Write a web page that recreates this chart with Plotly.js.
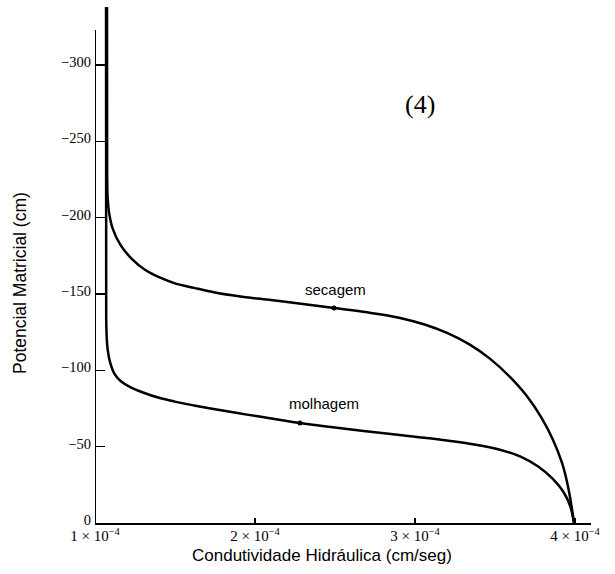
<!DOCTYPE html>
<html>
<head>
<meta charset="utf-8">
<script src="https://cdn.plot.ly/plotly-3.0.1.min.js"></script>
<style>html,body{margin:0;padding:0;background:#fff;}#chart{width:615px;height:574px;}</style>
</head>
<body>
<div id="chart"></div>
<script>
// x values in units of 1e-4 cm/seg, y in cm
const secagemX = [1.075, 1.076, 1.079, 1.087, 1.11, 1.16, 1.23, 1.31, 1.4, 1.5, 1.62, 1.75, 1.9, 2.1, 2.3, 2.494, 2.7, 2.9, 3.06, 3.2, 3.34, 3.47, 3.59, 3.7, 3.79, 3.86, 3.92, 3.96, 3.994];
const secagemY = [-340, -230, -213, -204, -193, -182, -173, -166, -161, -157, -154, -151, -148.5, -146, -143.5, -140.8, -138, -134.5, -130, -124.5, -117, -107.5, -96, -83, -69, -55, -39, -22, 0];
const molhagemX = [1.069, 1.07, 1.073, 1.08, 1.095, 1.12, 1.16, 1.22, 1.3, 1.4, 1.5, 1.62, 1.75, 1.95, 2.15, 2.281, 2.5, 2.75, 3.0, 3.2, 3.38, 3.53, 3.66, 3.77, 3.86, 3.93, 3.97, 3.994];
const molhagemY = [-340, -135, -122, -113, -105, -98, -93, -89, -85.5, -82, -79.5, -77, -74.5, -71, -67.7, -65.5, -62.5, -59.5, -56.5, -54, -51.3, -48, -43.5, -37, -29, -20, -11, 0];
const markX = [2.494, 2.281];
const markY = [-140.8, -65.5];
const xTickVals = [1, 2, 3, 4];
const xTickText = ['1 × 10<sup>−4</sup>', '2 × 10<sup>−4</sup>', '3 × 10<sup>−4</sup>', '4 × 10<sup>−4</sup>'];
const yTickVals = [0, -50, -100, -150, -200, -250, -300];
const yTickText = ['0', '−50', '−100', '−150', '−200', '−250', '−300'];
const labels = [
  {text: 'secagem', x: 2.5, y: -153},
  {text: 'molhagem', x: 2.43, y: -78}
];
const xTitle = 'Condutividade Hidráulica (cm/seg)';
const yTitle = 'Potencial Matricial (cm)';

const lineStyle = {color: '#000', width: 2.5, shape: 'spline', smoothing: 1};
const traces = [
  {x: secagemX, y: secagemY, mode: 'lines', line: lineStyle, name: 'secagem', hoverinfo: 'skip'},
  {x: molhagemX, y: molhagemY, mode: 'lines', line: lineStyle, name: 'molhagem', hoverinfo: 'skip'},
  {x: markX, y: markY, mode: 'markers', marker: {color: '#000', size: 5}, hoverinfo: 'skip'}
];

const serif = 'Liberation Serif, Times New Roman, serif';
const sans = 'Liberation Sans, Arial, sans-serif';

const layout = {
  width: 615, height: 574,
  margin: {l: 95, r: 24, t: 7, b: 51},
  paper_bgcolor: '#fff', plot_bgcolor: '#fff',
  showlegend: false,
  xaxis: {
    range: [1, 4.1], showgrid: false, zeroline: false,
    showline: true, linecolor: '#000', linewidth: 2,
    ticks: 'inside', ticklen: 5, tickwidth: 1.5, tickcolor: '#000',
    tickvals: xTickVals, ticktext: xTickText,
    tickfont: {family: serif, size: 15, color: '#000'},
    ticklabelstandoff: -2
  },
  yaxis: {
    range: [0, -338], showgrid: false, zeroline: false,
    showline: false,
    ticks: 'inside', ticklen: 10, tickwidth: 1.5, tickcolor: '#000',
    tickvals: yTickVals, ticktext: yTickText,
    tickfont: {family: serif, size: 14.5, color: '#000'},
    ticklabelshift: 3,
    ticklabelstandoff: 3
  },
  shapes: [
    {type: 'line', xref: 'x', yref: 'y', x0: 1, x1: 1, y0: 0, y1: -323, line: {color: '#000', width: 2}}
  ],
  annotations: [
    {text: xTitle, xref: 'paper', yref: 'paper', x: (322 - 95) / 496, y: -(555 - 523) / 516, xanchor: 'center', yanchor: 'middle', showarrow: false, font: {family: sans, size: 17, color: '#000'}},
    {text: yTitle, xref: 'paper', yref: 'paper', x: (20 - 95) / 496, y: (523 - 283) / 516, xanchor: 'center', yanchor: 'middle', textangle: -90, showarrow: false, font: {family: sans, size: 17.5, color: '#000'}},
    {text: '(4)', xref: 'x', yref: 'y', x: 3.03, y: -274, showarrow: false, font: {family: serif, size: 26, color: '#000'}},
    ...labels.map(l => ({text: l.text, xref: 'x', yref: 'y', x: l.x, y: l.y, showarrow: false, font: {family: sans, size: 15, color: '#000'}}))
  ]
};

Plotly.newPlot('chart', traces, layout, {displayModeBar: false, staticPlot: true});
</script>
</body>
</html>
